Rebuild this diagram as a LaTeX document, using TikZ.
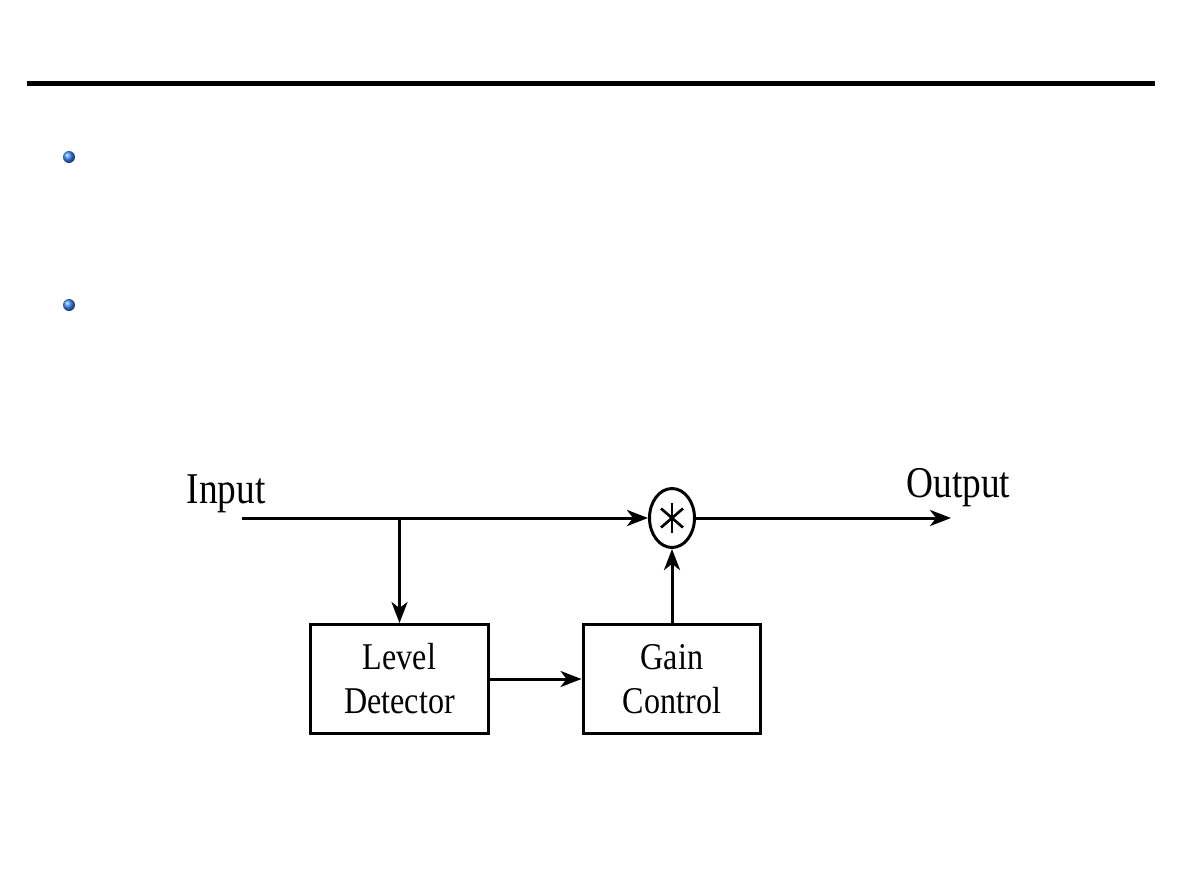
\documentclass[tikz,border=0pt]{standalone}
\usepackage{fontspec}
\setmainfont{Liberation Serif}[FakeStretch=0.85]
\usetikzlibrary{arrows.meta,positioning,shapes.geometric}
\definecolor{cbullet}{RGB}{60,135,255}

\begin{document}
\begin{tikzpicture}[
  x=0.02cm, y=-0.02cm,
  line width=1.7pt,
  blockbox/.style={draw, rectangle, minimum width=3.56cm, minimum height=2.18cm, align=center, inner sep=0pt, font=\fontsize{21.5}{25}\selectfont},
  mixnode/.style={draw, ellipse, minimum width=0.9cm, minimum height=1.18cm, inner sep=0pt},
  lbl/.style={anchor=base, inner sep=0pt, font=\fontsize{25}{30}\selectfont},
  ar/.style={-{Stealth[length=4.2mm,width=3.2mm,inset=1.2mm]}},
]
\useasboundingbox (0,0) rectangle (1190,893);
\draw[line width=0.1cm] (27,83.5) -- (1155,83.5);
\shade[ball color=cbullet] (69,157) circle [radius=0.12cm];
\shade[ball color=cbullet] (69,305) circle [radius=0.12cm];
\node[mixnode] (mix) at (672,518) {};
\node[blockbox] (lvl) at (399.5,679) {Level\\Detector};
\node[blockbox] (gain) at (672,679) {Gain\\Control};
\coordinate (in) at (242,518);
\coordinate (out) at (951,518);
\coordinate (split) at (lvl |- in);
\node[lbl] (inlbl) at (226,503) {Input};
\node[lbl] (outlbl) at (958.5,497) {Output};
\draw[ar] (in) -- (mix.west);
\draw[ar] (split) -- (lvl.north);
\draw[ar] (lvl.east) -- (gain.west);
\draw[ar] (gain.north) -- (mix.south);
\draw[ar] (mix.east) -- (out);
\draw[line width=1.5pt] ([yshift=-0.3cm]mix.center) -- ([yshift=0.3cm]mix.center);
\draw[line width=1.5pt] ([shift={(-0.22cm,0.19cm)}]mix.center) -- ([shift={(0.22cm,-0.19cm)}]mix.center);
\draw[line width=1.5pt] ([shift={(-0.22cm,-0.19cm)}]mix.center) -- ([shift={(0.22cm,0.19cm)}]mix.center);
\end{tikzpicture}
\end{document}
